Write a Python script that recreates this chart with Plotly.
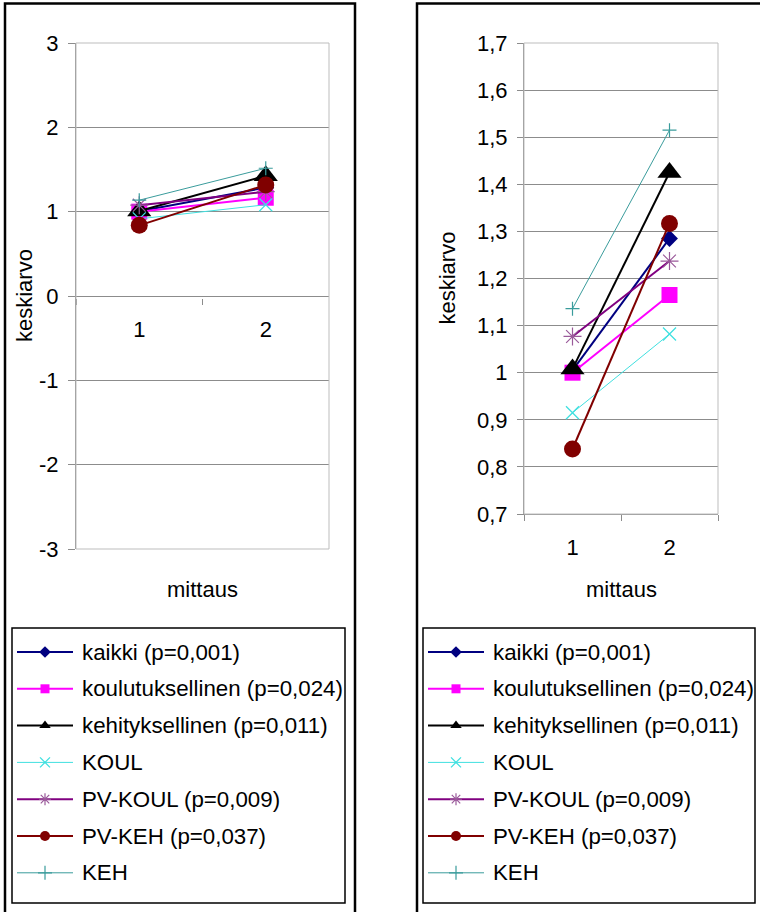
import plotly.graph_objects as go

# ---------------- data ----------------
CATEGORIES = ["1", "2"]
SERIES_NAMES = [
    "kaikki (p=0,001)",
    "koulutuksellinen (p=0,024)",
    "kehityksellinen (p=0,011)",
    "KOUL",
    "PV-KOUL (p=0,009)",
    "PV-KEH (p=0,037)",
    "KEH",
]
KAIKKI = [1.005, 1.285]
KOULUTUKSELLINEN = [1.000, 1.165]
KEHITYKSELLINEN = [1.008, 1.425]
KOUL = [0.915, 1.082]
PV_KOUL = [1.077, 1.237]
PV_KEH = [0.838, 1.317]
KEH = [1.136, 1.515]
SERIES_VALUES = [KAIKKI, KOULUTUKSELLINEN, KEHITYKSELLINEN, KOUL, PV_KOUL, PV_KEH, KEH]

Y1_TICKS = [-3, -2, -1, 0, 1, 2, 3]
Y1_LABELS = ["-3", "-2", "-1", "0", "1", "2", "3"]
Y2_TICKS = [0.7, 0.8, 0.9, 1.0, 1.1, 1.2, 1.3, 1.4, 1.5, 1.6, 1.7]
Y2_LABELS = ["0,7", "0,8", "0,9", "1", "1,1", "1,2", "1,3", "1,4", "1,5", "1,6", "1,7"]
Y_TITLE = "keskiarvo"
X_TITLE = "mittaus"

# ---------------- styles ----------------
W, H = 760, 912
FONT = "Liberation Sans, Arial, sans-serif"
FS = 22
LEG_FS = 22.3
GRID = "#8c8c8c"

STYLES = [
    dict(color="#000080", width=2, symbol="diamond", size=13, lsize=9, mcolor="#000080", mlw=0),
    dict(color="#FF00FF", width=2, symbol="square", size=16, lsize=9, mcolor="#FF00FF", mlw=0),
    dict(color="#000000", width=2, symbol="triangle-up", size=21, lsize=10, mcolor="#000000", mlw=0),
    dict(color="#40E0E0", width=1, symbol="x-thin", size=13, lsize=10, mcolor="#40E0E0", mlw=1.3),
    dict(color="#800080", width=2, symbol="asterisk", size=15, lsize=10, mcolor="#9a5a9a", mlw=1.2),
    dict(color="#800000", width=2, symbol="circle", size=17, lsize=10, mcolor="#800000", mlw=0),
    dict(color="#3a9c9c", width=1, symbol="cross-thin", size=10, lsize=10, mcolor="#3a9c9c", mlw=1.2),
]


def fx(px):
    return px / W


def fy(py):
    return 1 - py / H


# plot areas in pixels
L_PLOT = dict(x0=76, x1=329, y0=43, y1=549)
R_PLOT = dict(x0=524, x1=718, y0=43, y1=514)
L_ZERO_PY = 298

fig = go.Figure()


def marker_dict(st, size):
    return dict(symbol=st["symbol"], size=size, color=st["mcolor"],
                line=dict(color=st["mcolor"], width=st["mlw"]))


for xa, ya in (("x", "y"), ("x2", "y2")):
    for name, vals, st in zip(SERIES_NAMES, SERIES_VALUES, STYLES):
        fig.add_trace(go.Scatter(
            x=CATEGORIES, y=vals, name=name, mode="lines+markers",
            xaxis=xa, yaxis=ya, showlegend=False, cliponaxis=False,
            line=dict(color=st["color"], width=st["width"]),
            marker=marker_dict(st, st["size"]),
        ))

# ---------------- legends (drawn on a pixel overlay axis) ----------------
LEG_BOXES = [dict(x0=12, x1=345), dict(x0=423, x1=755)]
LEG_Y0, LEG_Y1 = 628, 903
ROW0, ROW_STEP = 652, 36.8
annotations = []
for box in LEG_BOXES:
    bx = box["x0"]
    for i, (name, st) in enumerate(zip(SERIES_NAMES, STYLES)):
        ry = ROW0 + i * ROW_STEP
        fig.add_trace(go.Scatter(
            x=[bx + 5, bx + 61], y=[ry, ry], mode="lines", xaxis="x3", yaxis="y3",
            showlegend=False, hoverinfo="skip",
            line=dict(color=st["color"], width=st["width"])))
        fig.add_trace(go.Scatter(
            x=[bx + 33], y=[ry], mode="markers", xaxis="x3", yaxis="y3",
            showlegend=False, hoverinfo="skip",
            marker=marker_dict(st, st["lsize"])))
        annotations.append(dict(
            x=bx + 68, y=ry, xref="x3", yref="y3", text=name, showarrow=False,
            xanchor="left", yanchor="middle", font=dict(size=LEG_FS, color="black", family=FONT)))

# axis titles
for plot in (L_PLOT, R_PLOT):
    cx = (plot["x0"] + plot["x1"]) / 2
    annotations.append(dict(x=cx, y=589, xref="x3", yref="y3", text=X_TITLE, showarrow=False,
                            xanchor="center", yanchor="middle",
                            font=dict(size=FS, color="black", family=FONT)))
annotations.append(dict(x=24, y=(L_PLOT["y0"] + L_PLOT["y1"]) / 2, xref="x3", yref="y3",
                        text=Y_TITLE, textangle=-90, showarrow=False,
                        xanchor="center", yanchor="middle",
                        font=dict(size=FS, color="black", family=FONT)))
annotations.append(dict(x=447, y=(R_PLOT["y0"] + R_PLOT["y1"]) / 2, xref="x3", yref="y3",
                        text=Y_TITLE, textangle=-90, showarrow=False,
                        xanchor="center", yanchor="middle",
                        font=dict(size=FS, color="black", family=FONT)))

shapes = []
# plot area borders
for plot in (L_PLOT, R_PLOT):
    shapes.append(dict(type="rect", xref="x3", yref="y3", x0=plot["x0"], x1=plot["x1"],
                       y0=plot["y0"], y1=plot["y1"], line=dict(color="#bdbdbd", width=1),
                       layer="below"))
# outer frames
shapes.append(dict(type="rect", xref="x3", yref="y3", x0=5, x1=355, y0=3.5, y1=930,
                   line=dict(color="black", width=2.5)))
shapes.append(dict(type="rect", xref="x3", yref="y3", x0=417, x1=780, y0=3.5, y1=930,
                   line=dict(color="black", width=2.5)))
# legend boxes
for box in LEG_BOXES:
    shapes.append(dict(type="rect", xref="x3", yref="y3", x0=box["x0"], x1=box["x1"],
                       y0=LEG_Y0, y1=LEG_Y1, line=dict(color="black", width=1.5)))

tickfont = dict(size=FS, color="black", family=FONT)

fig.update_layout(
    width=W, height=H, autosize=False,
    margin=dict(l=0, r=0, t=0, b=0, pad=0, autoexpand=False),
    paper_bgcolor="white", plot_bgcolor="rgba(0,0,0,0)",
    font=dict(family=FONT, size=FS, color="black"),
    showlegend=False,
    annotations=annotations, shapes=shapes,
    xaxis=dict(domain=[fx(L_PLOT["x0"]), fx(L_PLOT["x1"])], type="category",
               range=[-0.5, 1.5], anchor="free", position=fy(L_ZERO_PY),
               showline=False, showgrid=False, zeroline=False, automargin=False,
               ticks="outside", tickson="boundaries", ticklen=6, tickcolor=GRID,
               tickfont=tickfont, ticklabelstandoff=16),
    yaxis=dict(domain=[fy(L_PLOT["y1"]), fy(L_PLOT["y0"])], range=[-3, 3], anchor="x",
               tickvals=Y1_TICKS, ticktext=Y1_LABELS, showgrid=True, gridcolor=GRID,
               gridwidth=1, zeroline=False, showline=True, linecolor=GRID,
               ticks="outside", ticklen=7, tickcolor=GRID, tickfont=tickfont,
               ticklabelstandoff=5, automargin=False),
    xaxis2=dict(domain=[fx(R_PLOT["x0"]), fx(R_PLOT["x1"])], type="category",
                range=[-0.5, 1.5], anchor="y2",
                showline=True, linecolor=GRID, linewidth=1, showgrid=False, zeroline=False,
                ticks="outside", tickson="boundaries", ticklen=6, tickcolor=GRID,
                tickfont=tickfont, ticklabelstandoff=14, automargin=False),
    yaxis2=dict(domain=[fy(R_PLOT["y1"]), fy(R_PLOT["y0"])], range=[0.7, 1.7], anchor="x2",
                tickvals=Y2_TICKS, ticktext=Y2_LABELS, showgrid=True, gridcolor=GRID,
                gridwidth=1, zeroline=False, showline=True, linecolor=GRID,
                ticks="outside", ticklen=6, tickcolor=GRID, tickfont=tickfont,
                ticklabelstandoff=5, automargin=False),
    xaxis3=dict(domain=[0, 1], range=[0, W], visible=False, anchor="y3", fixedrange=True,
                automargin=False),
    yaxis3=dict(domain=[0, 1], range=[H, 0], visible=False, anchor="x3", fixedrange=True,
                automargin=False),
)

fig.write_html("out.html")
